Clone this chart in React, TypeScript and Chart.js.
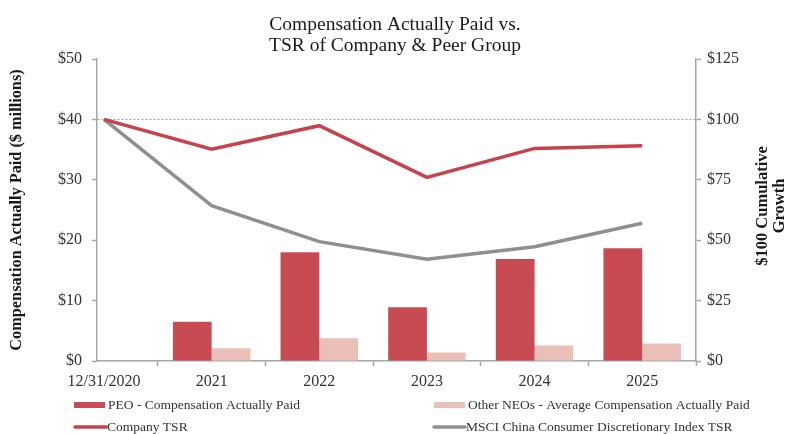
import React, { useEffect, useRef } from "react";
import { Chart, registerables } from "chart.js";

Chart.register(...registerables);

const xLabels = ["12/31/2020", "2021", "2022", "2023", "2024", "2025"];
const barYears = [1, 2, 3, 4, 5];
const peoCap = [6.5, 18.0, 8.9, 16.9, 18.65];
const neoCap = [2.1, 3.75, 1.4, 2.55, 2.9];
const tsrYears = [0, 1, 2, 3, 4, 5];
const companyTsr = [100, 87.7, 97.4, 76.0, 88.0, 89.1];
const msciTsr = [100, 64.3, 49.4, 42.1, 47.3, 57.0];

const SERIF = "'Liberation Serif', 'Times New Roman', serif";
const AXIS_GRAY = "#A6A6A6";
const TEXT = "#333333";

const pairs = (xs: number[], ys: number[]) => xs.map((x, i) => ({ x, y: ys[i] }));

const titlePlugin = {
  id: "customTitle",
  afterDraw(chart: any) {
    const ctx = chart.ctx;
    ctx.save();
    ctx.fillStyle = "#1a1a1a";
    ctx.font = `19.5px ${SERIF}`;
    ctx.textAlign = "center";
    ctx.textBaseline = "alphabetic";
    ctx.fillText("Compensation Actually Paid vs.", 395, 30);
    ctx.fillText("TSR of Company & Peer Group", 395, 51);
    // right axis title (reads bottom-to-top)
    ctx.font = `bold 16.5px ${SERIF}`;
    ctx.translate(771, 206);
    ctx.rotate(-Math.PI / 2);
    ctx.textBaseline = "middle";
    ctx.fillText("$100 Cumulative", 0, -8.5);
    ctx.fillText("Growth", 0, 8.5);
    ctx.restore();
  },
};

const legendPlugin = {
  id: "customLegend",
  afterDraw(chart: any) {
    const ctx = chart.ctx;
    const ds = chart.data.datasets;
    const items = [
      { d: ds[2], kind: "rect", x: 74, y: 405 },
      { d: ds[3], kind: "rect", x: 434, y: 405 },
      { d: ds[0], kind: "line", x: 73, y: 427 },
      { d: ds[1], kind: "line", x: 432, y: 427 },
    ];
    ctx.save();
    ctx.font = `13.5px ${SERIF}`;
    ctx.fillStyle = TEXT;
    ctx.textBaseline = "middle";
    ctx.textAlign = "left";
    for (const it of items) {
      if (it.kind === "rect") {
        ctx.fillStyle = it.d.backgroundColor;
        ctx.fillRect(it.x, it.y - 3, 31, 6);
        ctx.fillStyle = TEXT;
        ctx.fillText(it.d.label, it.x + 34, it.y);
      } else {
        ctx.strokeStyle = it.d.borderColor;
        ctx.lineWidth = 3.5;
        ctx.lineCap = "round";
        ctx.beginPath();
        ctx.moveTo(it.x + 2, it.y);
        ctx.lineTo(it.x + 33, it.y);
        ctx.stroke();
        ctx.fillStyle = TEXT;
        ctx.fillText(it.d.label, it.x + 34, it.y);
      }
    }
    ctx.restore();
  },
};

export default function App() {
  const ref = useRef<HTMLCanvasElement | null>(null);
  useEffect(() => {
    if (!ref.current) return;
    const chart = new Chart(ref.current, {
      type: "bar",
      data: {
        datasets: [
          {
            type: "line",
            label: "Company TSR",
            data: pairs(tsrYears, companyTsr),
            borderColor: "#C8424B",
            backgroundColor: "#C8424B",
            borderWidth: 3.5,
            pointRadius: 0,
            tension: 0,
            yAxisID: "y1",
            order: 0,
          },
          {
            type: "line",
            label: "MSCI China Consumer Discretionary Index TSR",
            data: pairs(tsrYears, msciTsr),
            borderColor: "#8F8F8F",
            backgroundColor: "#8F8F8F",
            borderWidth: 3.5,
            pointRadius: 0,
            tension: 0,
            yAxisID: "y1",
            order: 0,
          },
          {
            type: "bar",
            label: "PEO - Compensation Actually Paid",
            data: pairs(barYears, peoCap),
            backgroundColor: "#C84B53",
            yAxisID: "y",
            categoryPercentage: 0.72,
            barPercentage: 1,
            order: 1,
          },
          {
            type: "bar",
            label: "Other NEOs - Average Compensation Actually Paid",
            data: pairs(barYears, neoCap),
            backgroundColor: "#E9BFB8",
            yAxisID: "y",
            categoryPercentage: 0.72,
            barPercentage: 1,
            order: 1,
          },
        ] as any,
      },
      options: {
        animation: false,
        responsive: false,
        events: [],
        layout: { padding: { top: 59, left: 0, right: 0, bottom: 0 } },
        plugins: {
          legend: { display: false },
          title: { display: false },
          tooltip: { enabled: false },
        },
        scales: {
          x: {
            type: "linear",
            position: "bottom",
            offset: false,
            min: -0.065,
            max: 5.5,
            afterBuildTicks: (s: any) => {
              s.ticks = tsrYears.map((v) => ({ value: v }));
            },
            afterFit: (s: any) => {
              s.height = 73;
            },
            ticks: {
              callback: (v: any) => xLabels[Math.round(v)] ?? "",
              font: { family: SERIF, size: 16 },
              color: TEXT,
              padding: 6,
              maxRotation: 0,
              autoSkip: false,
            },
            grid: {
              offset: true,
              drawOnChartArea: false,
              drawTicks: true,
              tickLength: 5,
              tickColor: AXIS_GRAY,
              tickWidth: 1.5,
            },
            border: { display: true, color: AXIS_GRAY, width: 1.5 },
          },
          y: {
            type: "linear",
            position: "left",
            min: 0,
            max: 50,
            ticks: {
              stepSize: 10,
              callback: (v: any) => "$" + v,
              font: { family: SERIF, size: 16 },
              color: TEXT,
              padding: 10,
            },
            afterFit: (s: any) => {
              s.width = 97;
            },
            grid: {
              drawOnChartArea: true,
              color: (c: any) => (c.tick && c.tick.value === 40 ? "#A0A0A0" : "rgba(0,0,0,0)"),
              lineWidth: 1,
              drawTicks: true,
              tickLength: 5,
              tickColor: AXIS_GRAY,
              tickWidth: 1.5,
            },
            border: { display: true, color: AXIS_GRAY, width: 1.5, dash: [2, 2] },
            title: {
              display: true,
              text: "Compensation Actually Paid ($ millions)",
              font: { family: SERIF, size: 16.3, weight: "bold" },
              color: "#1a1a1a",
              padding: { top: 7, bottom: 0 },
            },
          },
          y1: {
            type: "linear",
            position: "right",
            min: 0,
            max: 125,
            ticks: {
              stepSize: 25,
              callback: (v: any) => "$" + v,
              font: { family: SERIF, size: 16 },
              color: TEXT,
              padding: 6,
            },
            afterFit: (s: any) => {
              s.width = 89;
            },
            grid: {
              drawOnChartArea: false,
              drawTicks: true,
              tickLength: 5,
              tickColor: AXIS_GRAY,
              tickWidth: 1.5,
            },
            border: { display: true, color: AXIS_GRAY, width: 1.5 },
          },
        },
      } as any,
      plugins: [titlePlugin, legendPlugin],
    });
    return () => chart.destroy();
  }, []);
  return (
    <div style={{ position: "fixed", left: 0, top: 0, width: 785, height: 434, background: "#fff" }}>
      <canvas ref={ref} width={785} height={434} />
    </div>
  );
}
